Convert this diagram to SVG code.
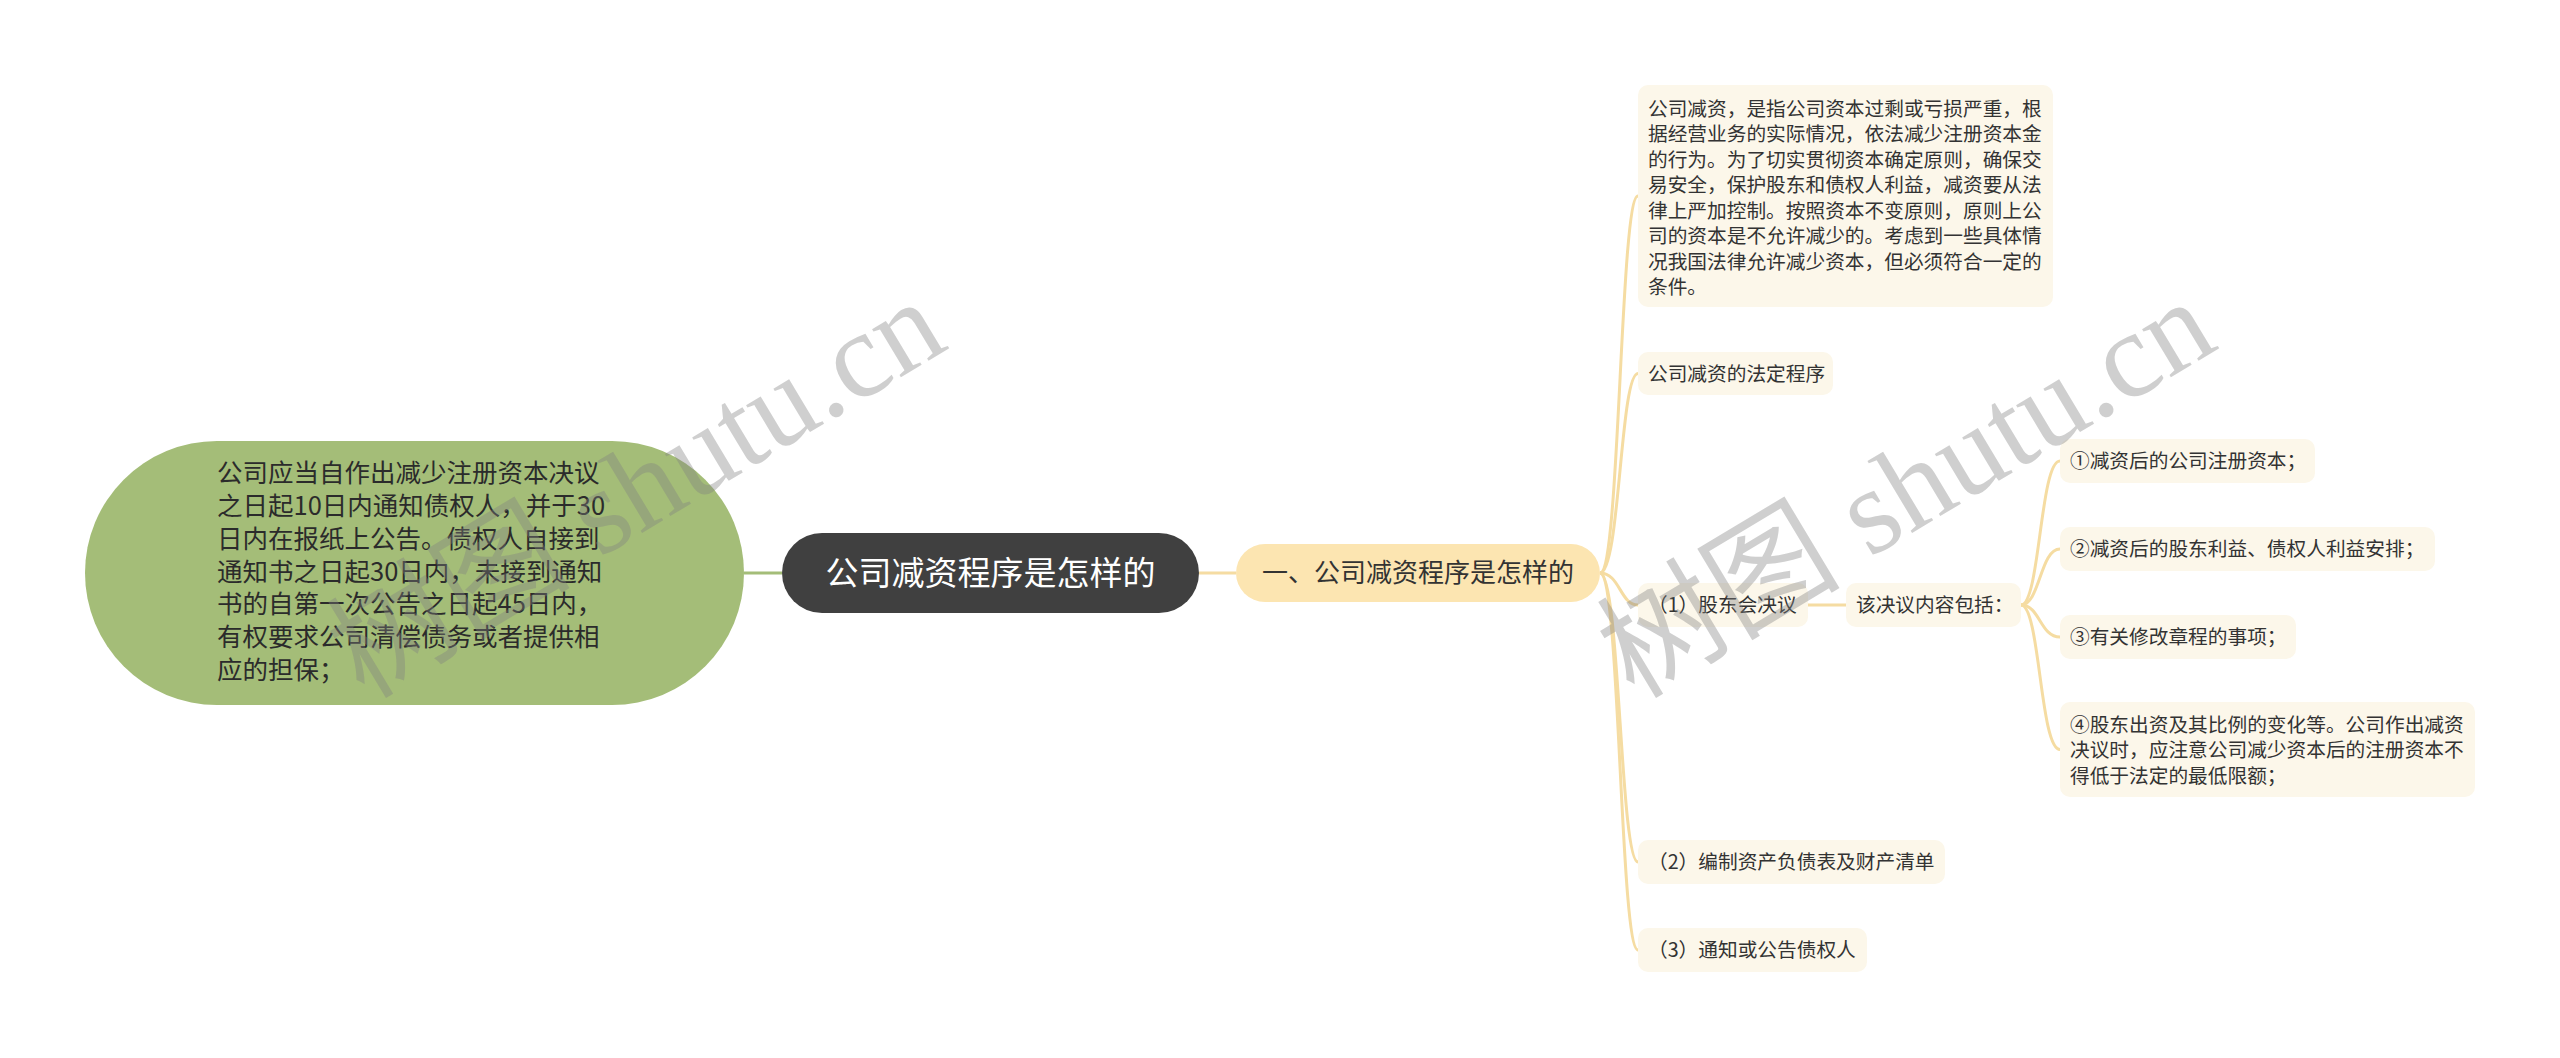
<svg xmlns="http://www.w3.org/2000/svg" width="2560" height="1058" viewBox="0 0 2560 1058">
<style>
  text { font-family: "Noto Sans CJK SC", "Noto Sans", sans-serif; }
  .leaf { fill: #fcf7ea; }
  .lt { font-size: 19.7px; fill: #333333; }
  .yc { fill: none; stroke: #f5dca2; stroke-width: 3; }
  .gc { fill: none; stroke: #a4bd78; stroke-width: 3; }
  .wm { font-family: "Liberation Serif", "Noto Sans CJK SC", serif; font-size: 122px; fill: #808080; fill-opacity: 0.38; }
</style>
<rect width="2560" height="1058" fill="#ffffff"/>

<g id="connectors">
  <path class="gc" d="M 744 573 H 782"/>
  <path class="yc" d="M 1199 573 H 1236"/>
  <path class="yc" d="M 1600 573 C 1620 573 1620 196 1638 196"/>
  <path class="yc" d="M 1600 573 C 1620 573 1620 373.5 1638 373.5"/>
  <path class="yc" d="M 1600 573 C 1620 573 1620 605 1638 605"/>
  <path class="yc" d="M 1600 573 C 1620 573 1620 862 1638 862"/>
  <path class="yc" d="M 1600 573 C 1620 573 1620 950 1638 950"/>
  <path class="yc" d="M 1808 605 H 1846"/>
  <path class="yc" d="M 2021 605 C 2040 605 2040 461 2060 461"/>
  <path class="yc" d="M 2021 605 C 2040 605 2040 549 2060 549"/>
  <path class="yc" d="M 2021 605 C 2040 605 2040 637 2060 637"/>
  <path class="yc" d="M 2021 605 C 2040 605 2040 749.5 2060 749.5"/>
</g>

<g id="node-left">
  <rect x="85" y="441" width="659" height="264" rx="132" fill="#a4bd78"/>
  <text font-size="25.5" fill="#2b2b2b">
    <tspan x="217" y="482">公司应当自作出减少注册资本决议</tspan>
    <tspan x="217" y="515">之日起10日内通知债权人，并于30</tspan>
    <tspan x="217" y="547.5">日内在报纸上公告。债权人自接到</tspan>
    <tspan x="217" y="580.5">通知书之日起30日内，未接到通知</tspan>
    <tspan x="217" y="613">书的自第一次公告之日起45日内，</tspan>
    <tspan x="217" y="646">有权要求公司清偿债务或者提供相</tspan>
    <tspan x="217" y="679">应的担保；</tspan>
  </text>
</g>

<g id="node-root">
  <rect x="782" y="533" width="417" height="80" rx="40" fill="#404040"/>
  <text x="990.5" y="584.5" font-size="33" fill="#ffffff" text-anchor="middle">公司减资程序是怎样的</text>
</g>

<g id="node-branch">
  <rect x="1236" y="544" width="364" height="58" rx="29" fill="#fce5b1"/>
  <text x="1418" y="582" font-size="26" fill="#333333" text-anchor="middle">一、公司减资程序是怎样的</text>
</g>

<g id="node-def">
  <rect class="leaf" x="1638" y="85" width="415" height="222" rx="10"/>
  <text class="lt">
    <tspan x="1648" y="115.5">公司减资，是指公司资本过剩或亏损严重，根</tspan>
    <tspan x="1648" y="141">据经营业务的实际情况，依法减少注册资本金</tspan>
    <tspan x="1648" y="166.5">的行为。为了切实贯彻资本确定原则，确保交</tspan>
    <tspan x="1648" y="192">易安全，保护股东和债权人利益，减资要从法</tspan>
    <tspan x="1648" y="217.5">律上严加控制。按照资本不变原则，原则上公</tspan>
    <tspan x="1648" y="243">司的资本是不允许减少的。考虑到一些具体情</tspan>
    <tspan x="1648" y="268.5">况我国法律允许减少资本，但必须符合一定的</tspan>
    <tspan x="1648" y="294">条件。</tspan>
  </text>
</g>

<g id="node-legal">
  <rect class="leaf" x="1638" y="352" width="195" height="43" rx="10"/>
  <text class="lt" x="1648" y="380.5">公司减资的法定程序</text>
</g>

<g id="node-step1">
  <rect class="leaf" x="1638" y="583" width="170" height="44" rx="10"/>
  <text class="lt" x="1648" y="612">（1）股东会决议</text>
</g>

<g id="node-content">
  <rect class="leaf" x="1846" y="583" width="175" height="44" rx="10"/>
  <text class="lt" x="1856" y="612">该决议内容包括：</text>
</g>

<g id="node-item1">
  <rect class="leaf" x="2060" y="439" width="255" height="44" rx="10"/>
  <text class="lt" x="2070" y="468">①减资后的公司注册资本；</text>
</g>

<g id="node-item2">
  <rect class="leaf" x="2060" y="527" width="375" height="44" rx="10"/>
  <text class="lt" x="2070" y="556">②减资后的股东利益、债权人利益安排；</text>
</g>

<g id="node-item3">
  <rect class="leaf" x="2060" y="615" width="236" height="44" rx="10"/>
  <text class="lt" x="2070" y="644">③有关修改章程的事项；</text>
</g>

<g id="node-item4">
  <rect class="leaf" x="2060" y="702" width="415" height="95" rx="10"/>
  <text class="lt">
    <tspan x="2070" y="731.5">④股东出资及其比例的变化等。公司作出减资</tspan>
    <tspan x="2070" y="757">决议时，应注意公司减少资本后的注册资本不</tspan>
    <tspan x="2070" y="782.5">得低于法定的最低限额；</tspan>
  </text>
</g>

<g id="node-step2">
  <rect class="leaf" x="1638" y="840" width="307" height="44" rx="10"/>
  <text class="lt" x="1648" y="869">（2）编制资产负债表及财产清单</text>
</g>

<g id="node-step3">
  <rect class="leaf" x="1638" y="928" width="229" height="44" rx="10"/>
  <text class="lt" x="1648" y="957">（3）通知或公告债权人</text>
</g>

<g id="watermarks">
  <text class="wm" transform="translate(364,700) rotate(-31)">树图 shutu.cn</text>
  <text class="wm" transform="translate(1634,700) rotate(-31)">树图 shutu.cn</text>
</g>
</svg>
